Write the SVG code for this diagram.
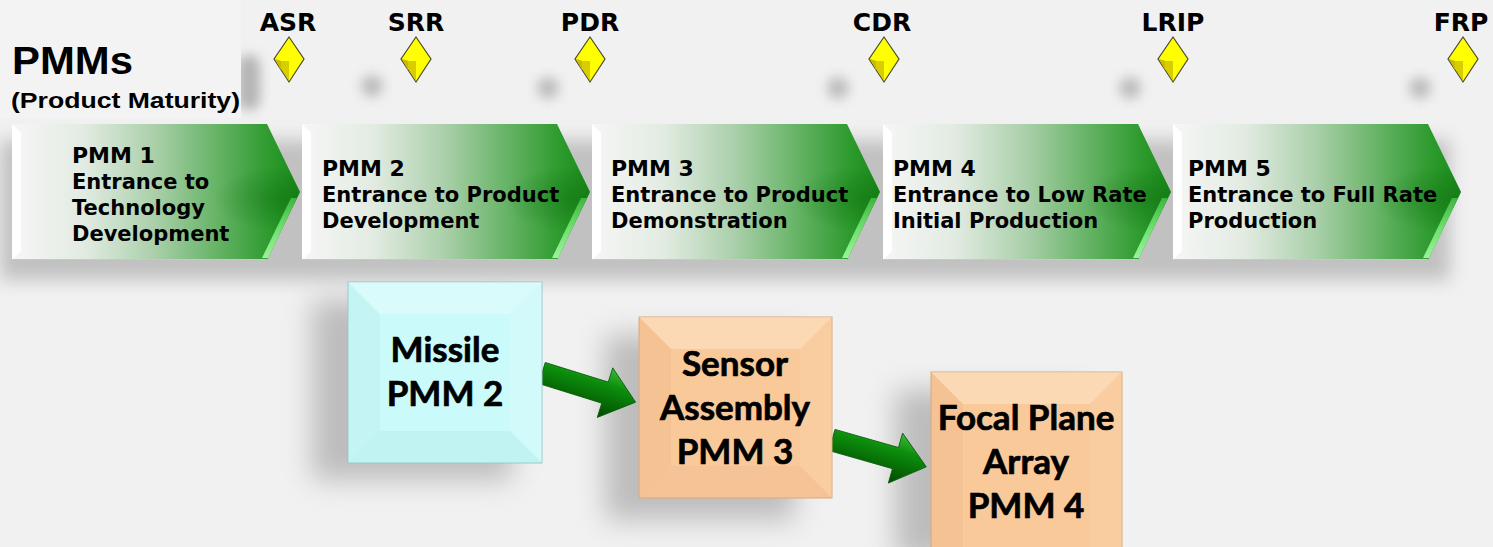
<svg xmlns="http://www.w3.org/2000/svg" width="1493" height="547" viewBox="0 0 1493 547">
<defs>
  <linearGradient id="chevFill" x1="0" y1="0" x2="1" y2="0">
    <stop offset="0" stop-color="#f6f6f6"/>
    <stop offset="0.25" stop-color="#e2ebe2"/>
    <stop offset="0.5" stop-color="#a9cfa9"/>
    <stop offset="0.75" stop-color="#5aae5a"/>
    <stop offset="0.9" stop-color="#2c9a2c"/>
    <stop offset="1" stop-color="#1a8a1a"/>
  </linearGradient>
  <radialGradient id="tipShade" cx="0.95" cy="0.55" r="0.25">
    <stop offset="0" stop-color="#0a6a0a" stop-opacity="0.45"/>
    <stop offset="1" stop-color="#0a6a0a" stop-opacity="0"/>
  </radialGradient>
  <linearGradient id="bevelG" x1="0" y1="0" x2="0" y2="1">
    <stop offset="0" stop-color="#3fb53f"/>
    <stop offset="0.5" stop-color="#6fe06f"/>
    <stop offset="1" stop-color="#9af29a"/>
  </linearGradient>
  <linearGradient id="arrowG" x1="0" y1="0" x2="0" y2="1">
    <stop offset="0" stop-color="#3cbb3c"/>
    <stop offset="0.35" stop-color="#0c8e0c"/>
    <stop offset="1" stop-color="#004a00"/>
  </linearGradient>
  <filter id="blur" x="-50%" y="-50%" width="200%" height="200%">
    <feGaussianBlur stdDeviation="9"/>
  </filter>
  <filter id="blurS" x="-50%" y="-50%" width="200%" height="200%">
    <feGaussianBlur stdDeviation="6"/>
  </filter>
  <filter id="blurL" x="-50%" y="-50%" width="200%" height="200%">
    <feGaussianBlur stdDeviation="14"/>
  </filter>
  <g id="chev">
    <path d="M0,0 H255 L288,68 L255,136 H0 Z" fill="url(#chevFill)"/>
    <path d="M0,0 H255 L288,68 L255,136 H0 Z" fill="url(#tipShade)"/>
    <polygon points="0,0 9,9 9,127 0,136" fill="#ffffff"/>
    <polygon points="285,74 256,134 250,134 279,74" fill="url(#bevelG)"/>
    <line x1="0" y1="135.5" x2="255" y2="135.5" stroke="#c8c8c8" stroke-width="1"/>
  </g>
  <g id="dia">
    <polygon points="0,-22 15,0 0,23 -15,0" fill="#ffff00" stroke="#4a4a30" stroke-width="1.2"/>
    <polygon points="-14,0 -8,2 0,2 0,22" fill="#d9cc00"/>
    <polygon points="-14,0 -8,2 -8,11" fill="#c8bb00"/>
  </g>
  <g id="arrowShape">
    <path d="M0,-11 H66 V-26 L98,0 L66,26 V11 H0 Z" fill="url(#arrowG)" stroke="#0a5a0a" stroke-width="0.8"/>
  </g>
</defs>
<style>
  .lbl { font-family: "DejaVu Sans", Verdana, sans-serif; font-weight: bold; font-size: 25px; fill: #000; text-anchor: middle; }
  .ct { font-family: "DejaVu Sans", Verdana, sans-serif; font-weight: bold; font-size: 21px; fill: #000; }
  .ch { font-size: 22px; }
  .bt { font-family: Lato, "Open Sans", sans-serif; font-weight: bold; font-size: 35px; fill: #000; stroke: #000; stroke-width: 0.7; text-anchor: middle; }
  .ttl { font-family: "Liberation Sans", Arial, sans-serif; font-weight: bold; fill: #000; }
</style>
<rect width="1493" height="547" fill="#f1f1f1"/>

<!-- soft shadows -->
<g id="shadows" fill="#9a9a9a">
  <rect x="238" y="55" width="22" height="55" rx="10" filter="url(#blurS)" opacity="0.7"/>
  <circle cx="372" cy="86" r="11" filter="url(#blurS)" opacity="0.6"/>
  <circle cx="548" cy="88" r="11" filter="url(#blurS)" opacity="0.6"/>
  <circle cx="838" cy="88" r="11" filter="url(#blurS)" opacity="0.6"/>
  <circle cx="1130" cy="88" r="11" filter="url(#blurS)" opacity="0.6"/>
  <circle cx="1420" cy="88" r="11" filter="url(#blurS)" opacity="0.6"/>
  <rect x="0" y="140" width="1450" height="140" filter="url(#blur)" opacity="0.55"/>
  <rect x="312" y="300" width="200" height="180" filter="url(#blurL)" opacity="0.6"/>
  <rect x="605" y="335" width="190" height="185" filter="url(#blurL)" opacity="0.6"/>
  <rect x="895" y="390" width="190" height="170" filter="url(#blurL)" opacity="0.6"/>
</g>
<rect x="0" y="0" width="241" height="118" fill="#f3f3f3"/>

<!-- title -->
<g id="title">
  <text class="ttl" x="12" y="74" font-size="38" textLength="121" lengthAdjust="spacingAndGlyphs">PMMs</text>
  <text class="ttl" x="11" y="108" font-size="22" textLength="229" lengthAdjust="spacingAndGlyphs">(Product Maturity)</text>
</g>

<!-- milestones -->
<g id="ms-asr"><text class="lbl" x="288" y="31">ASR</text><use href="#dia" x="289" y="59"/></g>
<g id="ms-srr"><text class="lbl" x="416" y="31">SRR</text><use href="#dia" x="416" y="59"/></g>
<g id="ms-pdr"><text class="lbl" x="590" y="31">PDR</text><use href="#dia" x="590" y="59"/></g>
<g id="ms-cdr"><text class="lbl" x="882" y="31">CDR</text><use href="#dia" x="884" y="59"/></g>
<g id="ms-lrip"><text class="lbl" x="1173" y="31">LRIP</text><use href="#dia" x="1173" y="59"/></g>
<g id="ms-frp"><text class="lbl" x="1461" y="31">FRP</text><use href="#dia" x="1463" y="59"/></g>

<!-- chevrons -->
<g id="pmm1">
  <use href="#chev" x="12" y="124"/>
  <text class="ct ch" x="72" y="163">PMM 1</text>
  <text class="ct" x="72" y="189">Entrance to</text>
  <text class="ct" x="72" y="215">Technology</text>
  <text class="ct" x="72" y="241">Development</text>
</g>
<g id="pmm2">
  <use href="#chev" x="302" y="124"/>
  <text class="ct ch" x="322" y="176">PMM 2</text>
  <text class="ct" x="322" y="202">Entrance to Product</text>
  <text class="ct" x="322" y="228">Development</text>
</g>
<g id="pmm3">
  <use href="#chev" x="592" y="124"/>
  <text class="ct ch" x="611" y="176">PMM 3</text>
  <text class="ct" x="611" y="202">Entrance to Product</text>
  <text class="ct" x="611" y="228">Demonstration</text>
</g>
<g id="pmm4">
  <use href="#chev" x="883" y="124"/>
  <text class="ct ch" x="893" y="176">PMM 4</text>
  <text class="ct" x="893" y="202">Entrance to Low Rate</text>
  <text class="ct" x="893" y="228">Initial Production</text>
</g>
<g id="pmm5">
  <use href="#chev" x="1173" y="124"/>
  <text class="ct ch" x="1188" y="176">PMM 5</text>
  <text class="ct" x="1188" y="202">Entrance to Full Rate</text>
  <text class="ct" x="1188" y="228">Production</text>
</g>

<!-- connectors -->
<g id="connectors">
  <use href="#arrowShape" transform="translate(542,373) rotate(17.3)"/>
  <use href="#arrowShape" transform="translate(832,440) rotate(15.9)"/>
</g>

<!-- boxes -->
<g id="missile">
  <rect x="348" y="282" width="194" height="181" fill="#cbfafa" stroke="#9cc8c8" stroke-width="1"/>
  <polygon points="348,282 542,282 510,314 380,314" fill="#ffffff" opacity="0.3"/>
  <polygon points="348,282 380,314 380,431 348,463" fill="#a8dede" opacity="0.2"/>
  <polygon points="542,282 542,463 510,431 510,314" fill="#ffffff" opacity="0.15"/>
  <polygon points="348,463 542,463 510,431 380,431" fill="#9ed6d6" opacity="0.2"/>
  <text class="bt" x="445" y="362">Missile</text>
  <text class="bt" x="445" y="406">PMM 2</text>
</g>
<g id="sensor">
  <rect x="639" y="317" width="193" height="181" fill="#f9c99a" stroke="#d9a878" stroke-width="1"/>
  <polygon points="639,317 832,317 800,349 671,349" fill="#fff3dc" opacity="0.4"/>
  <polygon points="639,317 671,349 671,466 639,498" fill="#e0a878" opacity="0.2"/>
  <polygon points="832,317 832,498 800,466 800,349" fill="#ffe0c0" opacity="0.2"/>
  <polygon points="639,498 832,498 800,466 671,466" fill="#e8b080" opacity="0.2"/>
  <text class="bt" x="735" y="376">Sensor</text>
  <text class="bt" x="735" y="420">Assembly</text>
  <text class="bt" x="735" y="464">PMM 3</text>
</g>
<g id="fpa">
  <rect x="931" y="372" width="191" height="185" fill="#f9c99a" stroke="#d9a878" stroke-width="1"/>
  <polygon points="931,372 1122,372 1090,404 963,404" fill="#fff3dc" opacity="0.4"/>
  <polygon points="931,372 963,404 963,547 931,547" fill="#e0a878" opacity="0.2"/>
  <polygon points="1122,372 1122,547 1090,547 1090,404" fill="#ffe0c0" opacity="0.2"/>
  <text class="bt" x="1026" y="430">Focal Plane</text>
  <text class="bt" x="1026" y="474">Array</text>
  <text class="bt" x="1026" y="518">PMM 4</text>
</g>
</svg>
